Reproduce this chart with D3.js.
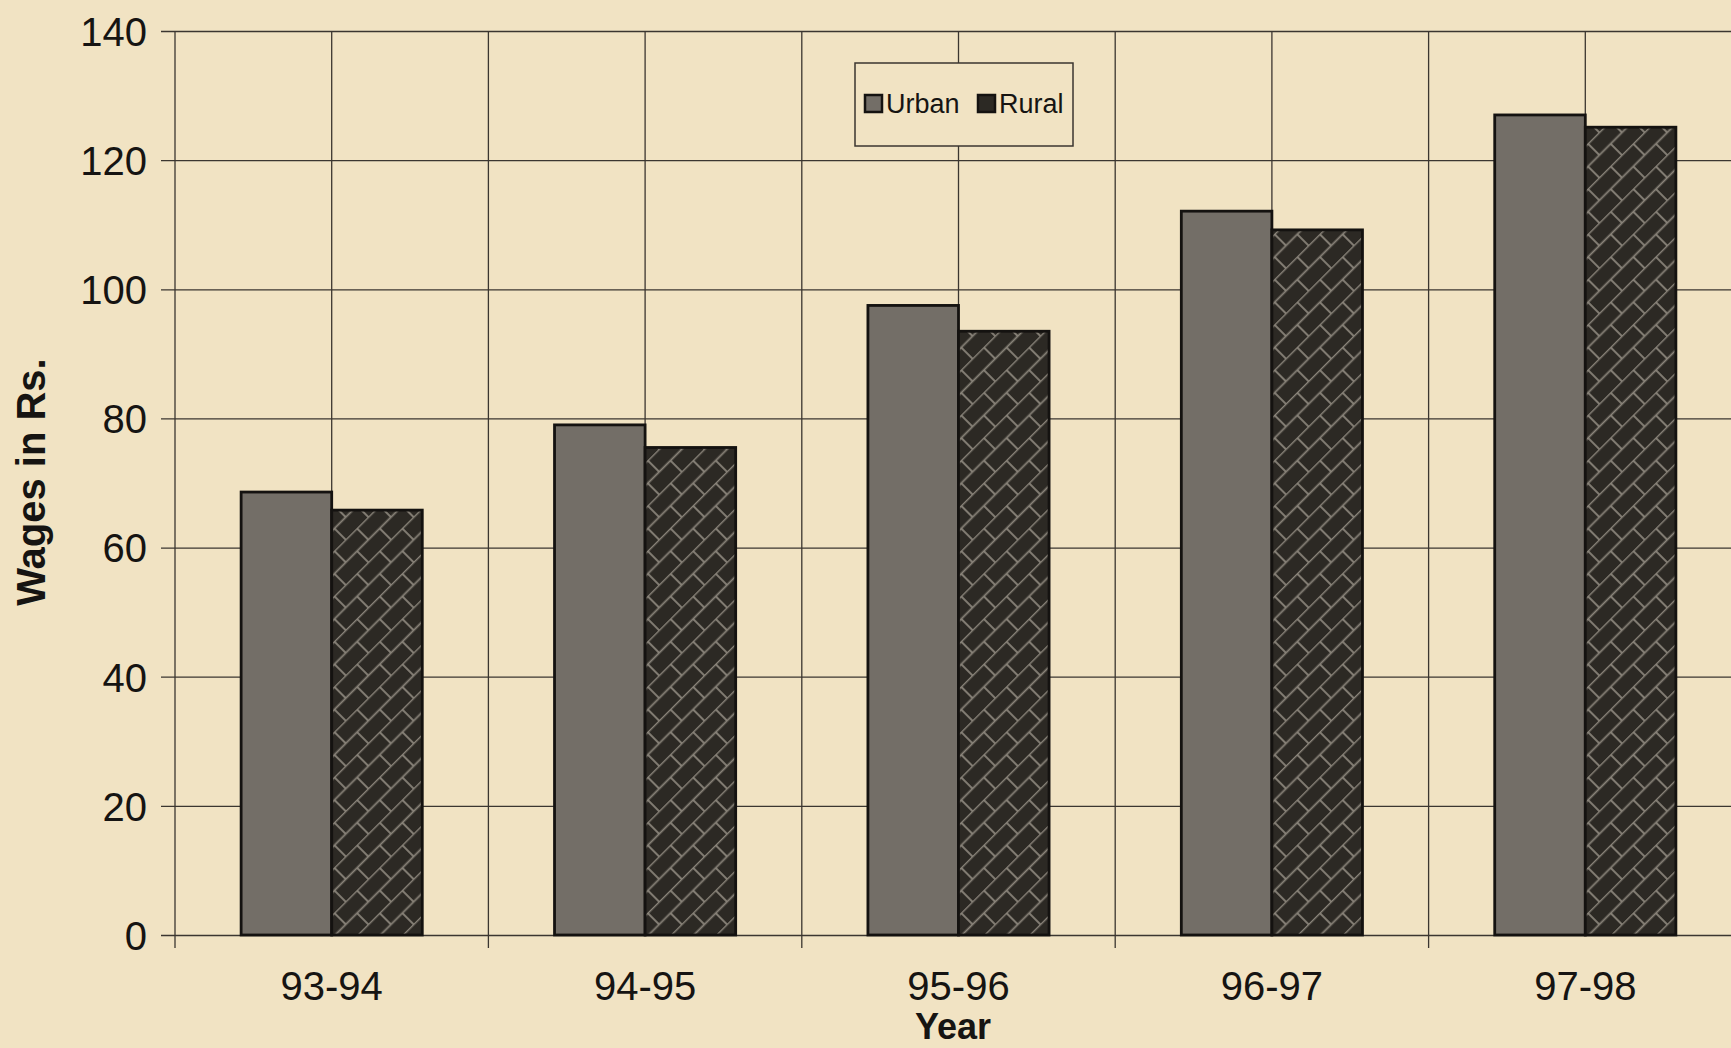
<!DOCTYPE html>
<html>
<head>
<meta charset="utf-8">
<script src="https://cdn.jsdelivr.net/npm/d3@7"></script>
<style>
  html, body { margin: 0; padding: 0; background: #f1e3c3; overflow: hidden; }
  text { font-family: "Liberation Sans", Arial, sans-serif; fill: #161412; }
</style>
</head>
<body>
<div id="chart"></div>
<script>
// data
const years = ["93-94", "94-95", "95-96", "96-97", "97-98"];
const series = ["Urban", "Rural"];
const urban = [68.6, 79.0, 97.5, 112.1, 127.0];
const rural = [65.8, 75.5, 93.5, 109.2, 125.1];
const yTicks = [0, 20, 40, 60, 80, 100, 120, 140];

const W = 1731, H = 1048;
const margin = { top: 31, left: 175 };
const plotW = 1567, plotH = 904;

const svg = d3.select("#chart").append("svg")
  .attr("width", W).attr("height", H);

// brick diagonal pattern for the rural bars
const defs = svg.append("defs");
const pat = defs.append("pattern")
  .attr("id", "brick")
  .attr("patternUnits", "userSpaceOnUse")
  .attr("width", 32).attr("height", 32)
  .attr("patternTransform", "rotate(-45)");
pat.append("rect").attr("width", 32).attr("height", 32).attr("fill", "#2c2924");
const brickLines = ["M0,0.5H32", "M0,16.5H32", "M1,0V16", "M17,16V32"];
pat.selectAll("path").data(brickLines).enter().append("path")
  .attr("d", d => d)
  .attr("stroke", "#8a847a").attr("stroke-width", 1.8).attr("fill", "none");

const g = svg.append("g").attr("transform", `translate(${margin.left},${margin.top})`);

const x0 = d3.scaleBand().domain(years).range([0, plotW]).padding(0);
const x1 = d3.scaleBand().domain(series).range([0, x0.bandwidth()])
  .paddingInner(0).paddingOuter(0.73);
const y = d3.scaleLinear().domain([0, 140]).range([plotH, 0]);

const gridColor = "#3b3630";

// horizontal gridlines + y ticks
const yAxis = g.append("g")
  .call(d3.axisLeft(y).tickValues(yTicks).tickSize(-(plotW + 20)).tickPadding(28))
  .call(s => s.select(".domain").remove());
yAxis.selectAll(".tick line")
  .attr("x1", -14).attr("x2", plotW + 20)
  .attr("stroke", gridColor).attr("stroke-width", 1.3);
yAxis.selectAll(".tick text")
  .attr("font-size", 40).attr("fill", "#161412")
  .attr("font-family", "Liberation Sans, Arial, sans-serif")
  .attr("dy", "0.36em");

// vertical gridlines at category edges and centres
const vLines = [];
years.forEach(yr => { vLines.push({ x: x0(yr), edge: true }); vLines.push({ x: x0(yr) + x0.bandwidth() / 2, edge: false }); });
vLines.push({ x: plotW, edge: true });
g.selectAll("line.vgrid").data(vLines).enter().append("line")
  .attr("class", "vgrid")
  .attr("x1", d => d.x).attr("x2", d => d.x)
  .attr("y1", 0).attr("y2", d => d.edge ? plotH + 13 : plotH)
  .attr("stroke", gridColor).attr("stroke-width", 1.3);

// bars
const rows = years.map((yr, i) => ({ year: yr, Urban: urban[i], Rural: rural[i] }));
const fills = { Urban: "#736e67", Rural: "url(#brick)" };
g.selectAll("g.grp").data(rows).enter().append("g")
  .attr("class", "grp")
  .attr("transform", d => `translate(${x0(d.year)},0)`)
  .selectAll("rect").data(d => series.map(k => ({ key: k, value: d[k] }))).enter()
  .append("rect")
  .attr("x", d => x1(d.key))
  .attr("y", d => y(d.value))
  .attr("width", x1.bandwidth())
  .attr("height", d => plotH - y(d.value))
  .attr("fill", d => fills[d.key])
  .attr("stroke", "#141210").attr("stroke-width", 2.8);

// x axis labels
const xAxis = g.append("g").attr("transform", `translate(0,${plotH})`)
  .call(d3.axisBottom(x0).tickSize(0).tickPadding(37));
xAxis.select(".domain").remove();
xAxis.selectAll(".tick text")
  .attr("font-size", 40).attr("fill", "#161412")
  .attr("font-family", "Liberation Sans, Arial, sans-serif");

// axis titles
svg.append("text")
  .attr("x", 953).attr("y", 1039)
  .attr("text-anchor", "middle")
  .attr("font-size", 36).attr("font-weight", "bold")
  .text("Year");

svg.append("text")
  .attr("transform", "translate(45,482) rotate(-90)")
  .attr("text-anchor", "middle")
  .attr("font-size", 40).attr("font-weight", "bold")
  .text("Wages in Rs.");

// legend
const leg = svg.append("g").attr("transform", "translate(855,63)");
leg.append("rect").attr("width", 218).attr("height", 83)
  .attr("fill", "#f1e3c3").attr("stroke", gridColor).attr("stroke-width", 1.5);
const legX = [10, 123];
const legFill = { Urban: "#736e67", Rural: "#2c2924" };
series.forEach((s, i) => {
  leg.append("rect")
    .attr("x", legX[i]).attr("y", 32).attr("width", 17).attr("height", 17)
    .attr("fill", legFill[s]).attr("stroke", "#141210").attr("stroke-width", 2.5);
  leg.append("text")
    .attr("x", legX[i] + 21).attr("y", 50)
    .attr("font-size", 27)
    .text(s);
});
</script>
</body>
</html>
